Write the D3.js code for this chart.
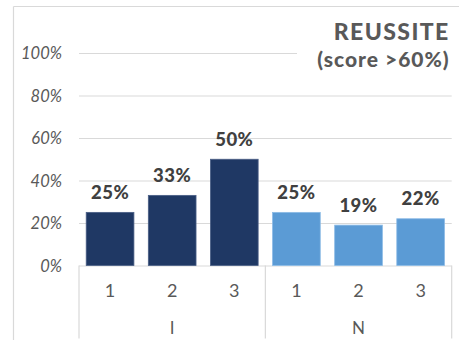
<!DOCTYPE html>
<html>
<head>
<meta charset="utf-8">
<script src="https://cdn.jsdelivr.net/npm/d3@7"></script>
<style>
  html, body { margin: 0; padding: 0; background: #fff; }
  svg { display: block; }
  text { font-family: Lato, "Open Sans", sans-serif; }
</style>
</head>
<body>
<svg id="chart" width="459" height="340"></svg>
<script>
// Success rate (score > 60%) by level, for groups I and N
const groups = ["I", "N"];
const levels = ["1", "2", "3"];
const valuesI = [0.25, 0.33, 0.50];
const valuesN = [0.25, 0.19, 0.22];
const groupColors = ["#1f3864", "#5b9bd5"];
const groupStrokes = ["#4a5f86", "#8cbbe6"];
const yTicks = [0, 0.2, 0.4, 0.6, 0.8, 1.0];
const titleLines = ["REUSSITE", "(score >60%)"];

// flatten into one row per bar
const rows = [];
[valuesI, valuesN].forEach((vals, gi) => {
  vals.forEach((v, li) => {
    rows.push({ key: groups[gi] + "-" + levels[li], group: gi, level: levels[li], value: v });
  });
});

const svg = d3.select("#chart");
const gridColor = "#d9d9d9";
const plotLeft = 79, plotRight = 451.7, plotTop = 53, plotBottom = 265.5;

const x = d3.scaleBand()
  .domain(rows.map(d => d.key))
  .range([plotLeft, plotRight])
  .paddingInner(0.232)
  .paddingOuter(0.116);

const y = d3.scaleLinear().domain([0, 1]).range([plotBottom, plotTop]);

// outer frame (left and top edges visible)
svg.append("line").attr("x1", 13.5).attr("x2", 13.5).attr("y1", 6.5).attr("y2", 340)
  .attr("stroke", gridColor).attr("stroke-width", 1.2);
svg.append("line").attr("x1", 13.5).attr("x2", 459).attr("y1", 6.5).attr("y2", 6.5)
  .attr("stroke", gridColor).attr("stroke-width", 1.2);

// horizontal gridlines + y labels via axis
const yAxis = d3.axisLeft(y)
  .tickValues(yTicks)
  .tickSize(-(plotRight - plotLeft))
  .tickPadding(17)
  .tickFormat(d => Math.round(d * 100) + "%");

const gy = svg.append("g").attr("transform", `translate(${plotLeft},0)`).call(yAxis);
gy.select(".domain").remove();
gy.selectAll(".tick line").attr("stroke", gridColor).attr("stroke-width", 1.2);
gy.selectAll(".tick text")
  .attr("fill", "#595959")
  .style("font-size", "16.5px")
  .style("font-style", "italic")
  .attr("dy", "0.36em");

// bars
svg.append("g").selectAll("rect")
  .data(rows)
  .join("rect")
  .attr("x", d => x(d.key))
  .attr("y", d => y(d.value))
  .attr("width", x.bandwidth())
  .attr("height", d => y(0) - y(d.value))
  .attr("fill", d => groupColors[d.group])
  .attr("stroke", d => groupStrokes[d.group])
  .attr("stroke-width", 0.8);

// value labels
svg.append("g").selectAll("text")
  .data(rows)
  .join("text")
  .attr("x", d => x(d.key) + x.bandwidth() / 2)
  .attr("y", d => y(d.value) - 13.5)
  .attr("text-anchor", "middle")
  .attr("fill", "#404040")
  .style("font-size", "18.5px")
  .style("font-weight", "900")
  .style("letter-spacing", "0.5px")
  .text(d => Math.round(d.value * 100) + "%");

// category axis: level labels, group labels, separators
const sepColor = "#d9d9d9";
const step = x.step();
const groupBounds = groups.map((g, gi) => {
  const ks = rows.filter(r => r.group === gi).map(r => r.key);
  return [x(ks[0]) - x.paddingInner() * step / 2, x(ks[ks.length - 1]) + x.bandwidth() + x.paddingInner() * step / 2];
});
const sepXs = [groupBounds[0][0], groupBounds[0][1], groupBounds[1][1]];
svg.append("g").selectAll("line")
  .data(sepXs)
  .join("line")
  .attr("x1", d => d).attr("x2", d => d)
  .attr("y1", plotBottom).attr("y2", 338.5)
  .attr("stroke", sepColor).attr("stroke-width", 1.2);

svg.append("g").selectAll("text")
  .data(rows)
  .join("text")
  .attr("x", d => x(d.key) + x.bandwidth() / 2)
  .attr("y", 296.5)
  .attr("text-anchor", "middle")
  .attr("fill", "#595959")
  .style("font-size", "18px")
  .text(d => d.level);

svg.append("g").selectAll("text")
  .data(groups)
  .join("text")
  .attr("x", (d, i) => (groupBounds[i][0] + groupBounds[i][1]) / 2)
  .attr("y", 334)
  .attr("text-anchor", "middle")
  .attr("fill", "#595959")
  .style("font-size", "17px")
  .text(d => d);

// title block with its own white background
svg.append("rect").attr("x", 297).attr("y", 14).attr("width", 158).attr("height", 66).attr("fill", "#fff");
svg.append("text")
  .attr("x", 449.7).attr("y", 40)
  .attr("text-anchor", "end")
  .attr("fill", "#595959")
  .style("font-size", "23px")
  .style("font-weight", "900")
  .style("letter-spacing", "1.4px")
  .text(titleLines[0]);
svg.append("text")
  .attr("x", 449.7).attr("y", 67)
  .attr("text-anchor", "end")
  .attr("fill", "#595959")
  .style("font-size", "21px")
  .style("font-weight", "900")
  .style("letter-spacing", "1px")
  .text(titleLines[1]);
</script>
</body>
</html>
